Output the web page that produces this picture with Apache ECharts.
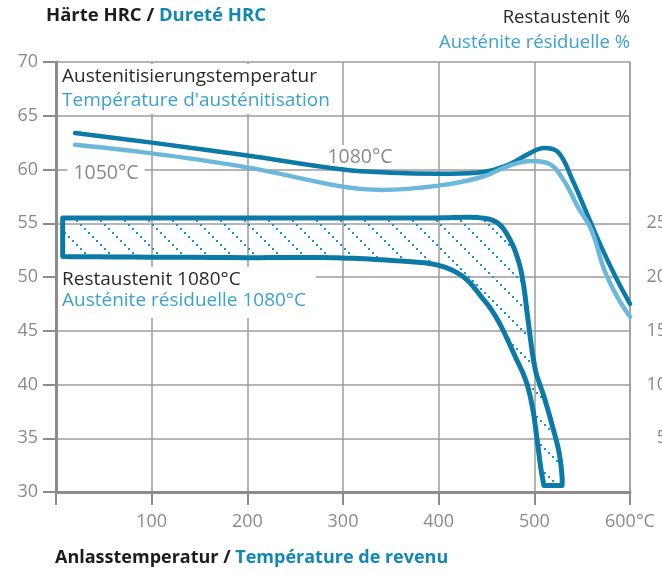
<!DOCTYPE html>
<html>
<head>
<meta charset="utf-8">
<script src="https://cdn.jsdelivr.net/npm/echarts@6/dist/echarts.min.js"></script>
<style>
html, body { margin: 0; padding: 0; background: #fff; }
#chart { width: 662px; height: 575px; }
</style>
</head>
<body>
<div id="chart"></div>
<script>
// Härte nach Anlasstemperatur (Austenitisierung 1080°C / 1050°C)
const temp1080 = [20, 100, 200, 300, 350, 400, 440, 472, 495, 510, 525, 540, 555, 570, 585, 600]
const hrc1080 = [63.4, 62.5, 61.3, 60.0, 59.7, 59.6, 59.7, 60.4, 61.5, 62.0, 61.6, 59.0, 55.9, 52.8, 50.0, 47.5]
const temp1050 = [20, 100, 200, 300, 340, 400, 445, 472, 496, 514, 530, 545, 560, 573, 587, 600]
const hrc1050 = [62.3, 61.5, 60.2, 58.4, 58.1, 58.5, 59.3, 60.3, 60.8, 60.6, 59.1, 56.6, 54.3, 50.7, 48.1, 46.3]
// Restaustenit 1080°C: obere und untere Grenze (in %)
const bandUpperT = [7, 200, 400, 444, 462, 475, 484, 489, 493, 501, 510, 519, 526, 529, 529]
const bandUpperRA = [25.5, 25.5, 25.5, 25.5, 25.0, 23.4, 21.3, 19.1, 16.3, 11.4, 8.9, 6.1, 3.6, 1.4, 0.6]
const bandLowerT = [7, 200, 287, 357, 399, 426, 447, 457, 467, 480, 491, 498, 503, 507, 510]
const bandLowerRA = [21.9, 21.8, 21.8, 21.5, 21.1, 20.0, 17.9, 16.7, 15.1, 12.6, 10.4, 7.9, 4.8, 2.1, 0.6]
// Achsen
const hrcTicks = [30, 35, 40, 45, 50, 55, 60, 65, 70]
const raLabels = [5, 10, 15, 20, 25]
const tempTicks = [0, 100, 200, 300, 400, 500, 600]

const dark = '#0b7aa7'
const light = '#6cb8db'
const grey = '#8a8a8a'
const blueText = '#3aa2cf'
const font = '"Open Sans", Lato, sans-serif'

// Schraffur
const hatch = document.createElement('canvas')
hatch.width = 24
hatch.height = 24
const hctx = hatch.getContext('2d')
hctx.fillStyle = '#1697d6'
for (let i = 0; i < 24; i += 4) hctx.fillRect(i, i, 2, 2)

const dist = (a, b) => Math.hypot(b[0] - a[0], b[1] - a[1])
const ctrl = (pts, i, dir, k) => {
  if (i === 0 || i === pts.length - 1) return pts[i]
  const a = pts[i - 1], p = pts[i], b = pts[i + 1]
  const d0 = dist(a, p), d1 = dist(p, b)
  const f = k * (dir > 0 ? d1 : d0) / (d0 + d1)
  return [p[0] + dir * (b[0] - a[0]) * f, p[1] + dir * (b[1] - a[1]) * f]
}
const smoothLine = (pts, k) => {
  const out = [pts[0]]
  for (let i = 0; i < pts.length - 1; i++) {
    const p1 = pts[i], p2 = pts[i + 1]
    const c1 = ctrl(pts, i, 1, k), c2 = ctrl(pts, i + 1, -1, k)
    for (let s = 1; s <= 12; s++) {
      const t = s / 12, u = 1 - t
      out.push([
        u * u * u * p1[0] + 3 * u * u * t * c1[0] + 3 * u * t * t * c2[0] + t * t * t * p2[0],
        u * u * u * p1[1] + 3 * u * u * t * c1[1] + 3 * u * t * t * c2[1] + t * t * t * p2[1]
      ])
    }
  }
  return out
}

const myChart = echarts.init(document.getElementById('chart'))
let option = {
  animation: false,
  textStyle: { fontFamily: font },
  grid: { left: 56, right: 32, top: 62, bottom: 83, outerBoundsMode: 'none' },
  xAxis: {
    type: 'value',
    min: tempTicks[0],
    max: tempTicks[tempTicks.length - 1],
    interval: 100,
    axisLine: { show: true, lineStyle: { color: '#8c8c8c', width: 3 } },
    axisTick: { show: true, length: 13, lineStyle: { color: '#8c8c8c', width: 2 } },
    axisLabel: {
      margin: 21,
      color: grey,
      fontSize: 18,
      fontFamily: font,
      formatter: v => (v === 0 ? '' : v === 600 ? '600°C' : String(v))
    },
    splitLine: { show: true, lineStyle: { color: '#9c9c9c', width: 1.5 } }
  },
  yAxis: [
    {
      type: 'value',
      min: hrcTicks[0],
      max: hrcTicks[hrcTicks.length - 1],
      interval: 5,
      axisLine: { show: true, lineStyle: { color: '#8c8c8c', width: 3 } },
      axisTick: { show: true, length: 13, lineStyle: { color: '#8c8c8c', width: 2 } },
      axisLabel: { margin: 18, color: grey, fontSize: 18, fontFamily: font },
      splitLine: { show: true, lineStyle: { color: '#9c9c9c', width: 1.5 } }
    },
    {
      type: 'value',
      position: 'right',
      min: 0,
      max: 40,
      interval: 5,
      axisLine: { show: true, lineStyle: { color: '#9c9c9c', width: 1.5 } },
      axisTick: { show: false },
      splitLine: { show: false },
      axisLabel: {
        margin: 37,
        align: 'right',
        color: grey,
        fontSize: 18,
        fontFamily: font,
        formatter: v => (raLabels.includes(v) ? String(v) : '')
      }
    }
  ],
  series: [
    {
      type: 'custom',
      yAxisIndex: 1,
      silent: true,
      clip: false,
      z: 3,
      data: [[0, 0]],
      renderItem: (params, api) => {
        const up = bandUpperT.map((t, i) => api.coord([t, bandUpperRA[i]]))
        const lo = bandLowerT.map((t, i) => api.coord([t, bandLowerRA[i]])).reverse()
        return {
          type: 'polygon',
          shape: { points: smoothLine(up, 0.35).concat(smoothLine(lo, 0.35)) },
          style: {
            fill: { image: hatch, repeat: 'repeat' },
            stroke: dark,
            lineWidth: 5,
            lineJoin: 'round'
          }
        }
      }
    },
    {
      name: '1080°C',
      type: 'line',
      smooth: 0.4,
      symbol: 'none',
      z: 4,
      lineStyle: { color: dark, width: 4.5, cap: 'round' },
      data: temp1080.map((t, i) => [t, hrc1080[i]])
    },
    {
      name: '1050°C',
      type: 'line',
      smooth: 0.4,
      symbol: 'none',
      z: 5,
      lineStyle: { color: light, width: 4.5, cap: 'round' },
      data: temp1050.map((t, i) => [t, hrc1050[i]])
    }
  ],
  graphic: [
    {
      type: 'text', left: 46, top: 6, z: 50,
      style: {
        text: '{a|Härte HRC / }{b|Dureté HRC}',
        rich: {
          a: { fontSize: 18.5, fontWeight: 'bold', fill: '#1c1c1c', fontFamily: font },
          b: { fontSize: 18.5, fontWeight: 'bold', fill: '#1187b8', fontFamily: font }
        }
      }
    },
    {
      type: 'text', right: 32, top: 8, z: 50,
      style: { text: 'Restaustenit %', fontSize: 18.5, fill: '#2a2a2a', fontFamily: font, align: 'right' }
    },
    {
      type: 'text', right: 32, top: 33, z: 50,
      style: { text: 'Austénite résiduelle %', fontSize: 18.5, fill: blueText, fontFamily: font, align: 'right' }
    },
    {
      type: 'text', left: 55, top: 549, z: 50,
      style: {
        text: '{a|Anlasstemperatur / }{b|Température de revenu}',
        rich: {
          a: { fontSize: 18, fontWeight: 'bold', fill: '#1c1c1c', fontFamily: font },
          b: { fontSize: 18, fontWeight: 'bold', fill: '#1187b8', fontFamily: font }
        }
      }
    },
    { type: 'rect', z: 1, shape: { x: 58, y: 64, width: 280, height: 50 }, style: { fill: '#fff' } },
    {
      type: 'text', x: 62, y: 77, z: 50,
      style: { text: 'Austenitisierungstemperatur', fontSize: 19, fill: '#2a2a2a', fontFamily: font, verticalAlign: 'middle' }
    },
    {
      type: 'text', x: 62, y: 101, z: 50,
      style: { text: "Température d'austénitisation", fontSize: 19, fill: blueText, fontFamily: font, verticalAlign: 'middle' }
    },
    { type: 'rect', z: 1, shape: { x: 58, y: 267, width: 258, height: 51 }, style: { fill: '#fff' } },
    {
      type: 'text', x: 62, y: 280, z: 50,
      style: { text: 'Restaustenit 1080°C', fontSize: 19, fill: '#2a2a2a', fontFamily: font, verticalAlign: 'middle' }
    },
    {
      type: 'text', x: 62, y: 301, z: 50,
      style: { text: 'Austénite résiduelle 1080°C', fontSize: 19, fill: blueText, fontFamily: font, verticalAlign: 'middle' }
    },
    {
      type: 'text', x: 106, y: 173, z: 1,
      style: {
        text: '1050°C', fontSize: 19.5, fill: grey, fontFamily: font,
        align: 'center', verticalAlign: 'middle', backgroundColor: '#fff', padding: [2, 6]
      }
    },
    {
      type: 'text', x: 360, y: 157, z: 1,
      style: {
        text: '1080°C', fontSize: 19.5, fill: grey, fontFamily: font,
        align: 'center', verticalAlign: 'middle', backgroundColor: '#fff', padding: [2, 5]
      }
    }
  ]
}
myChart.setOption(option)
</script>
</body>
</html>
